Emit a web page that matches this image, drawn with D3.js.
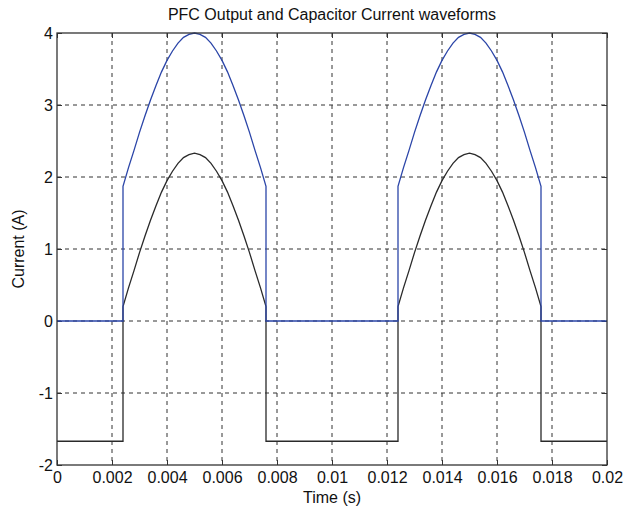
<!DOCTYPE html>
<html>
<head>
<meta charset="utf-8">
<script src="https://cdn.jsdelivr.net/npm/d3@7"></script>
<style>
  body { margin: 0; background: #fff; }
  text { font-family: "Liberation Sans", Arial, sans-serif; fill: #111; }
</style>
</head>
<body>
<div id="chart"></div>
<script>
// time points (s)
var time = [0, 0.0024,
  0.0024, 0.0026, 0.0028, 0.0030, 0.0032, 0.0034, 0.0036, 0.0038, 0.0040, 0.0042, 0.0044, 0.0046, 0.0048,
  0.0050, 0.0052, 0.0054, 0.0056, 0.0058, 0.0060, 0.0062, 0.0064, 0.0066, 0.0068, 0.0070, 0.0072, 0.0074, 0.0076,
  0.0076, 0.0124,
  0.0124, 0.0126, 0.0128, 0.0130, 0.0132, 0.0134, 0.0136, 0.0138, 0.0140, 0.0142, 0.0144, 0.0146, 0.0148,
  0.0150, 0.0152, 0.0154, 0.0156, 0.0158, 0.0160, 0.0162, 0.0164, 0.0166, 0.0168, 0.0170, 0.0172, 0.0174, 0.0176,
  0.0176, 0.02];

// PFC output current (blue)
var outputCurrent = [0, 0,
  1.87, 2.13, 2.37, 2.62, 2.85, 3.07, 3.27, 3.46, 3.62, 3.75, 3.86, 3.94, 3.98,
  4.00, 3.98, 3.94, 3.86, 3.75, 3.62, 3.46, 3.27, 3.07, 2.85, 2.62, 2.37, 2.13, 1.87,
  0, 0,
  1.87, 2.13, 2.37, 2.62, 2.85, 3.07, 3.27, 3.46, 3.62, 3.75, 3.86, 3.94, 3.98,
  4.00, 3.98, 3.94, 3.86, 3.75, 3.62, 3.46, 3.27, 3.07, 2.85, 2.62, 2.37, 2.13, 1.87,
  0, 0];

// capacitor current (black)
var capCurrent = [-1.67, -1.67,
  0.20, 0.46, 0.70, 0.95, 1.18, 1.40, 1.60, 1.79, 1.95, 2.08, 2.19, 2.27, 2.31,
  2.33, 2.31, 2.27, 2.19, 2.08, 1.95, 1.79, 1.60, 1.40, 1.18, 0.95, 0.70, 0.46, 0.20,
  -1.67, -1.67,
  0.20, 0.46, 0.70, 0.95, 1.18, 1.40, 1.60, 1.79, 1.95, 2.08, 2.19, 2.27, 2.31,
  2.33, 2.31, 2.27, 2.19, 2.08, 1.95, 1.79, 1.60, 1.40, 1.18, 0.95, 0.70, 0.46, 0.20,
  -1.67, -1.67];

var xTicks = [0, 0.002, 0.004, 0.006, 0.008, 0.01, 0.012, 0.014, 0.016, 0.018, 0.02];
var yTicks = [-2, -1, 0, 1, 2, 3, 4];

var width = 624, height = 509;
var margin = {top: 33, right: 17, bottom: 44, left: 57};
var iw = width - margin.left - margin.right,
    ih = height - margin.top - margin.bottom;

var svg = d3.select("#chart").append("svg")
  .attr("width", width)
  .attr("height", height);

var g = svg.append("g")
  .attr("transform", "translate(" + margin.left + "," + margin.top + ")");

var x = d3.scaleLinear().domain([0, 0.02]).range([0, iw]);
var y = d3.scaleLinear().domain([-2, 4]).range([ih, 0]);

// grid
g.append("g").selectAll("line")
  .data(xTicks.slice(1, -1))
  .enter().append("line")
  .attr("x1", d => x(d)).attr("x2", d => x(d))
  .attr("y1", 0).attr("y2", ih)
  .attr("stroke", "#333").attr("stroke-width", 1)
  .attr("stroke-dasharray", "4,4");
g.append("g").selectAll("line")
  .data(yTicks.slice(1, -1))
  .enter().append("line")
  .attr("x1", 0).attr("x2", iw)
  .attr("y1", d => y(d)).attr("y2", d => y(d))
  .attr("stroke", "#333").attr("stroke-width", 1)
  .attr("stroke-dasharray", "4,4");

// axes (matlab style: inward ticks on all four sides)
var fmt = d => String(d);
g.append("g")
  .attr("transform", "translate(0," + ih + ")")
  .call(d3.axisBottom(x).tickValues(xTicks).tickFormat(fmt).tickSizeInner(-5).tickSizeOuter(0).tickPadding(7))
  .call(a => a.select(".domain").remove())
  .selectAll("text").style("font-size", "16px");
g.append("g")
  .call(d3.axisLeft(y).tickValues(yTicks).tickFormat(fmt).tickSizeInner(-5).tickSizeOuter(0).tickPadding(4))
  .call(a => a.select(".domain").remove())
  .selectAll("text").style("font-size", "16px");
g.append("g")
  .call(d3.axisTop(x).tickValues(xTicks).tickFormat("").tickSizeInner(-5).tickSizeOuter(0))
  .call(a => a.select(".domain").remove());
g.append("g")
  .attr("transform", "translate(" + iw + ",0)")
  .call(d3.axisRight(y).tickValues(yTicks).tickFormat("").tickSizeInner(-5).tickSizeOuter(0))
  .call(a => a.select(".domain").remove());
g.selectAll(".tick line").attr("stroke", "#333");

// data lines
var pts = time.map((t, i) => ({t: t, a: outputCurrent[i], b: capCurrent[i]}));
g.append("path")
  .datum(pts)
  .attr("fill", "none")
  .attr("stroke", "#2a2a2a").attr("stroke-width", 1.3)
  .attr("d", d3.line().x(d => x(d.t)).y(d => y(d.b)));
g.append("path")
  .datum(pts)
  .attr("fill", "none")
  .attr("stroke", "#2b45a8").attr("stroke-width", 1.3)
  .attr("d", d3.line().x(d => x(d.t)).y(d => y(d.a)));

// box
g.append("rect")
  .attr("width", iw).attr("height", ih)
  .attr("fill", "none").attr("stroke", "#333").attr("stroke-width", 1.3);

// labels
svg.append("text")
  .attr("x", margin.left + iw / 2).attr("y", 20)
  .attr("text-anchor", "middle").style("font-size", "16px")
  .text("PFC Output and Capacitor Current waveforms");
svg.append("text")
  .attr("x", margin.left + iw / 2).attr("y", 503)
  .attr("text-anchor", "middle").style("font-size", "16px")
  .text("Time (s)");
svg.append("text")
  .attr("transform", "translate(24," + (margin.top + ih / 2) + ") rotate(-90)")
  .attr("text-anchor", "middle").style("font-size", "16px")
  .text("Current (A)");
</script>
</body>
</html>
